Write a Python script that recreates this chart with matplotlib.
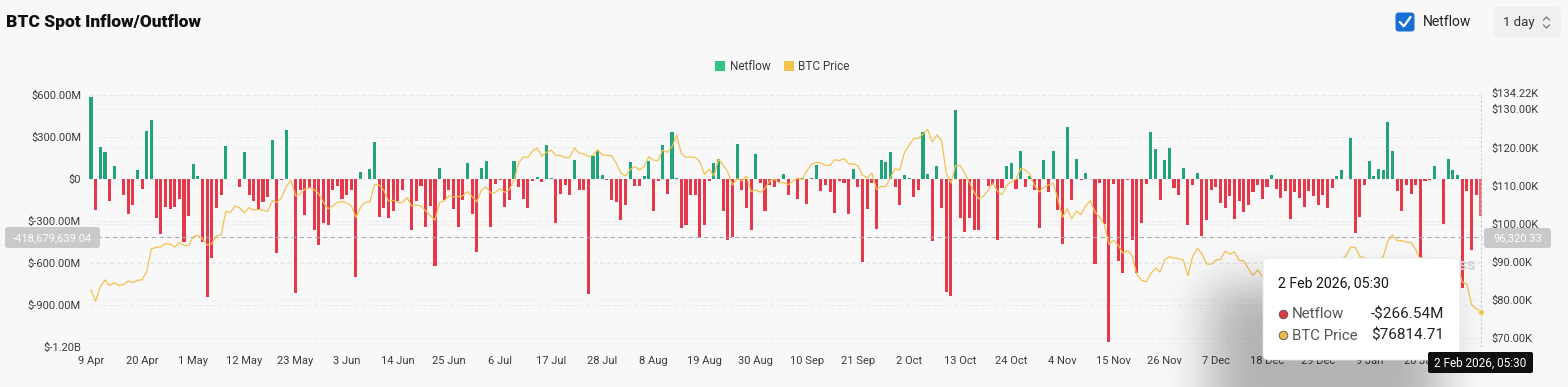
import math
import numpy as np
import pandas as pd
import matplotlib
matplotlib.use("Agg")
import matplotlib.pyplot as plt
from matplotlib.patches import FancyBboxPatch, Rectangle, Circle

plt.rcParams['font.family'] = ['Roboto', 'DejaVu Sans']

W, H = 1568, 387

# daily categories, 9 Apr 2025 .. 2 Feb 2026
dates = pd.date_range("2025-04-09", "2026-02-02", freq="D")

# netflow in $M, one per day
netflow_m = [
    580, -224, 229, 193, -162, 88, 0, -114, -252, -190,
    60, -74, 340, 417, -281, -393, -205, -214, -202, -143,
    -448, -269, 107, 17, -450, -840, -567, -210, -114, 236,
    -5, 0, -60, 188, -114, -162, -226, -167, -133, 276,
    -529, -10, 345, -5, -817, -81, -257, -67, -364, -471,
    -317, -333, -80, -55, -145, -115, -80, -698, 48, -3,
    71, 260, -274, -210, -281, -231, -162, -79, -5, -369,
    -162, -55, -345, -198, -626, 74, -155, -79, -214, -345,
    -150, 112, -252, -521, 76, 124, -343, -36, -8, -200,
    -150, 124, -57, -143, -210, -15, 15, -24, 238, 5,
    -317, -110, -43, -119, 131, -79, -83, -821, 160, 195,
    29, -10, -150, -167, -293, -190, 119, -55, -55, 17,
    126, -231, -19, 243, -107, 331, 5, -348, -331, -114,
    -119, -421, -331, -19, 114, 140, -231, -438, -414, 248,
    -79, -210, -367, 179, -31, -229, -43, -60, -22, 36,
    -114, -5, -145, 5, -181, 8, 95, -90, -43, -98,
    -245, -14, -31, -250, 71, -62, -593, -214, -31, -357,
    136, 119, 188, -57, -190, 24, 8, -131, -81, 331,
    36, -443, 88, -210, -807, -833, 493, -283, -379, -281,
    -367, -364, -5, -55, -43, -438, -67, 93, 114, -71,
    195, -57, 21, -79, -348, 131, -98, 195, -221, -464,
    369, -150, 140, -7, 40, 0, -610, -31, -324, -1162,
    -38, -590, -669, -12, -436, -674, -317, -36, 336, 214,
    -155, 136, 221, -67, -114, 74, -331, -48, 38, -412,
    -298, -83, -60, -174, -210, -126, -288, -162, -238, -186,
    -95, -48, -148, -62, 24, -71, -138, -90, -286, -98,
    -138, -205, -90, -126, -190, -114, -210, -67, 17, 60,
    0, 290, -388, -276, -48, 124, 17, 69, 64, 402,
    195, -90, -233, -43, -110, -43, -620, -15, -10, 88,
    -5, -324, 140, 64, 29, -776, -90, -507, -114, -266.54,
]

# BTC price in $K, one per day
price_apr = [82.5, 79.6, 83.4, 85.2, 83.7, 84.5, 83.7, 84.0, 84.9, 84.5, 85.1,
             85.2, 87.5, 93.4, 93.7, 93.9, 94.7, 94.6, 93.8, 95.0, 94.3, 94.2]
price_may = [96.5, 96.9, 95.9, 94.3, 94.7, 96.8, 97.0, 103.2, 102.9, 104.6,
             104.1, 102.8, 104.2, 103.5, 103.7, 103.5, 103.2, 106.0, 105.6,
             106.8, 109.7, 111.4, 107.3, 107.8, 109.0, 109.4, 108.9, 107.8,
             105.6, 103.9, 104.6]
price_jun = [105.6, 105.8, 105.4, 104.7, 101.6, 104.3, 105.6, 105.7, 110.3,
             110.2, 108.7, 105.9, 106.1, 105.5, 105.5, 106.8, 104.6, 104.9,
             104.6, 103.3, 102.1, 100.9, 105.5, 106.0, 107.3, 107.0, 107.1,
             107.3, 108.4, 107.1]
price_jul = [105.7, 108.8, 109.6, 108.0, 108.2, 109.2, 108.2, 108.9, 111.3,
             115.9, 117.5, 117.4, 119.1, 119.8, 117.7, 118.7, 119.3, 117.9,
             117.9, 117.3, 117.4, 119.9, 118.5, 118.3, 117.6, 117.9, 119.4,
             118.0, 117.9, 117.8, 115.8]
price_aug = [113.3, 112.5, 114.2, 115.0, 114.1, 115.0, 117.5, 116.7, 116.5,
             119.3, 118.7, 120.2, 123.3, 118.4, 117.4, 117.5, 117.4, 116.2,
             112.9, 114.3, 112.5, 116.9, 115.4, 113.5, 110.1, 111.8, 111.2,
             112.5, 108.4, 108.8, 108.2]
price_sep = [109.2, 111.2, 111.7, 110.7, 110.7, 110.2, 111.1, 112.0, 111.5,
             113.9, 115.5, 116.1, 115.9, 115.3, 115.3, 116.8, 116.5, 117.1,
             115.7, 115.7, 115.2, 112.7, 112.0, 113.3, 109.0, 109.7, 109.7,
             112.1, 114.4, 114.1]
price_oct = [118.6, 120.6, 122.3, 122.4, 123.5, 124.7, 121.4, 123.3, 121.7,
             113.2, 110.6, 115.2, 115.3, 113.1, 110.8, 108.2, 106.5, 107.2,
             108.7, 110.6, 108.5, 107.6, 110.1, 111.0, 111.6, 114.5, 114.1,
             112.9, 110.0, 108.3, 109.6]
price_nov = [110.1, 110.6, 106.5, 101.6, 103.9, 101.3, 103.3, 102.3, 104.7,
             106.0, 103.0, 101.7, 99.7, 94.6, 95.6, 94.3, 92.2, 92.9, 91.5,
             86.6, 85.1, 84.7, 86.8, 88.3, 87.3, 90.5, 91.3, 90.9, 90.8, 90.4]
price_dec = [86.3, 91.3, 93.4, 92.1, 89.4, 89.3, 90.4, 90.6, 92.7, 92.0, 92.5,
             90.3, 90.2, 88.2, 86.4, 87.8, 86.1, 85.5, 88.1, 88.3, 88.6, 88.5,
             87.6, 87.6, 87.2, 87.3, 87.8, 87.8, 87.1, 88.4, 87.5]
price_jan = [88.7, 89.9, 90.6, 91.5, 93.8, 93.7, 91.3, 91.0, 90.5, 90.5, 90.8,
             91.2, 95.4, 97.0, 95.5, 95.5, 95.1, 95.0, 93.2, 90.5, 89.4, 89.6,
             89.5, 89.2, 86.7, 88.0, 89.2, 89.3, 84.6, 84.1, 78.7]
price_feb = [77.6, 76.81471]
btc_price_k = (price_apr + price_may + price_jun + price_jul + price_aug +
               price_sep + price_oct + price_nov + price_dec + price_jan +
               price_feb)

left_ticks = [600, 300, 0, -300, -600, -900, -1200]
left_labels = ["$600.00M", "$300.00M", "$0", "$-300.00M", "$-600.00M",
               "$-900.00M", "$-1.20B"]
right_ticks = [134.22, 130, 120, 110, 100, 90, 80, 70]
right_labels = ["$134.22K", "$130.00K", "$120.00K", "$110.00K", "$100.00K",
                "$90.00K", "$80.00K", "$70.00K"]

cross_netflow = -418679639.04
cross_price = 96320.33
hover_label = "2 Feb 2026, 05:30"

GREEN = "#22a37c"
RED = "#e5384a"
GOLD = "#f2c24f"
BG = "#f8f8f9"
TXT = "#3b3b3b"

x = np.arange(len(dates))
net = np.array(netflow_m)
price = np.array(btc_price_k)

fig = plt.figure(figsize=(W / 100, H / 100), dpi=100, facecolor=BG)

# plot area in pixels
L, R, T, B = 88.7, 1483.1, 93.0, 347.0
ax = fig.add_axes([L / W, 1 - B / H, (R - L) / W, (B - T) / H])
ax.set_facecolor(BG)
ylo, yhi = -1200, 611
plo, phi = 67.56, 134.30
ax.set_xlim(-0.5, len(x) - 0.5)
ax.set_ylim(ylo, yhi)

# faint grid for both axes
for v in left_ticks:
    ax.axhline(v, color="#e8e8ea", lw=0.7, ls=(0, (4, 3)), zorder=0)
for v in right_ticks[1:]:
    vl = ylo + (v - plo) / (phi - plo) * (yhi - ylo)
    ax.axhline(vl, color="#ececee", lw=0.7, ls=(0, (4, 3)), zorder=0)

colors = np.where(net >= 0, GREEN, RED)
bars = ax.bar(x, net, width=0.66, color=colors, zorder=2)
bars[-1].set_facecolor("#ee6b78")  # hovered bar

ax.axhline(cross_netflow / 1e6, color="#a9a9a9", lw=0.8, ls=(0, (4, 3)), zorder=4)
ax.axvline(x[-1], color="#c9c9c9", lw=0.8, ls=(0, (2, 2)), zorder=4)

ax.set_yticks(left_ticks)
ax.set_yticklabels(left_labels)
xt = x[::11]
ax.set_xticks(xt)
ax.set_xticklabels([f"{d.day} {d.strftime('%b')}" for d in dates[::11]])
ax.tick_params(axis="y", length=0, pad=5.5, labelsize=8, labelcolor=TXT)
ax.tick_params(axis="x", length=0, pad=6.5, labelsize=8, labelcolor=TXT)
for s in ax.spines.values():
    s.set_visible(False)

ax2 = ax.twinx()
ax2.set_ylim(plo, phi)
ax2.plot(x, price, color=GOLD, lw=0.9, zorder=5)
ax2.plot(x[-1], price[-1], "o", ms=4, mfc=GOLD, mec="#fbe8b0", mew=1, zorder=6)
ax2.set_yticks(right_ticks)
ax2.set_yticklabels(right_labels)
ax2.tick_params(axis="y", length=0, pad=6, labelsize=8, labelcolor=TXT)
for s in ax2.spines.values():
    s.set_visible(False)

# overlay in pixel coordinates
ov = fig.add_axes([0, 0, 1, 1])
ov.set_zorder(10)
ov.axis("off")

erf = np.vectorize(math.erf)


def soft(n, a, b, s):
    t = np.arange(n) + 0.5
    return 0.5 * (erf((t - a) / s) - erf((t - b) / s))


shadow = np.zeros((H, W, 4))
shadow[..., 3] = np.outer(soft(H, 285, 430, 30), soft(W, 1210, 1440, 34)) * 0.28
ov.imshow(shadow, extent=(0, W, H, 0), aspect="auto", zorder=1)
ov.set_xlim(0, W)
ov.set_ylim(H, 0)

# watermark (mostly hidden)
ov.text(1476, 266, "CoinGlass", ha="right", va="center", fontsize=12,
        fontweight="bold", color="#d4d4d6", zorder=0.5)

# title and controls
ov.text(6, 22, "BTC Spot Inflow/Outflow", ha="left", va="center", fontsize=12.5,
        fontweight="heavy", color="#101010")
ov.add_patch(FancyBboxPatch((1395.5, 12.5), 19, 19,
                            boxstyle="round,pad=0,rounding_size=3",
                            fc="#1a6fd4", ec="none"))
ov.plot([1399.8, 1403.8, 1410.5], [22.0, 26.3, 17.0], color="white", lw=1.6,
        solid_capstyle="round", solid_joinstyle="round")
ov.text(1423, 22.5, "Netflow", ha="left", va="center", fontsize=10, color="#222")
ov.add_patch(FancyBboxPatch((1494, 7), 67, 31,
                            boxstyle="round,pad=0,rounding_size=5",
                            fc="#eef0f2", ec="none"))
ov.text(1503, 22.5, "1 day", ha="left", va="center", fontsize=9.5, color="#333")
ov.plot([1543.5, 1546.5, 1549.5], [20, 17, 20], color="#777", lw=0.9)
ov.plot([1543.5, 1546.5, 1549.5], [25, 28, 25], color="#777", lw=0.9)

# legend
ov.add_patch(Rectangle((715.5, 61), 10, 10, fc="#33c27f", ec="none"))
ov.text(730, 66.5, "Netflow", ha="left", va="center", fontsize=8.5, color=TXT)
ov.add_patch(Rectangle((784.5, 61), 10, 10, fc=GOLD, ec="none"))
ov.text(798, 66.5, "BTC Price", ha="left", va="center", fontsize=8.5, color=TXT)

# crosshair labels
ov.add_patch(FancyBboxPatch((5, 227), 95, 21, boxstyle="round,pad=0,rounding_size=3",
                            fc="#c9c9cb", ec="none"))
ov.text(52.5, 237.8, f"{cross_netflow:,.2f}", ha="center", va="center",
        fontsize=8, color="white")
ov.add_patch(FancyBboxPatch((1484, 228), 67, 20, boxstyle="round,pad=0,rounding_size=3",
                            fc="#c9c9cb", ec="none"))
ov.text(1517.5, 238.3, f"{cross_price:,.2f}", ha="center", va="center",
        fontsize=8, color="white")

# tooltip
ov.add_patch(FancyBboxPatch((1263, 258), 197, 102, boxstyle="round,pad=0,rounding_size=6",
                            fc="white", ec="#e4e4e6", lw=0.6, zorder=3))
ov.text(1278, 283, hover_label, ha="left", va="center", fontsize=10.2,
        color="#151515", zorder=4)
ov.add_patch(Circle((1283.5, 314.5), 4.3, fc="#e23a45", ec="#555", lw=0.6, zorder=4))
ov.text(1292, 314.5, "Netflow", ha="left", va="center", fontsize=10.8, color="#555", zorder=4)
ov.text(1444, 314.5, f"-${abs(net[-1]):.2f}M", ha="right", va="center",
        fontsize=11, color="#222", zorder=4)
ov.add_patch(Circle((1283.5, 335.5), 4.3, fc="#e9b949", ec="#555", lw=0.6, zorder=4))
ov.text(1292, 335.5, "BTC Price", ha="left", va="center", fontsize=10.8, color="#555", zorder=4)
ov.text(1444, 335.5, f"${price[-1] * 1000:.2f}", ha="right", va="center",
        fontsize=11, color="#222", zorder=4)

# hovered x label
ov.add_patch(FancyBboxPatch((1428, 352), 105, 21, boxstyle="round,pad=0,rounding_size=2",
                            fc="#0f0f10", ec="none", zorder=5))
ov.text(1480.5, 362.8, hover_label, ha="center", va="center", fontsize=8.5,
        color="white", zorder=6)

fig.savefig("out.png", dpi=100, facecolor=BG)
